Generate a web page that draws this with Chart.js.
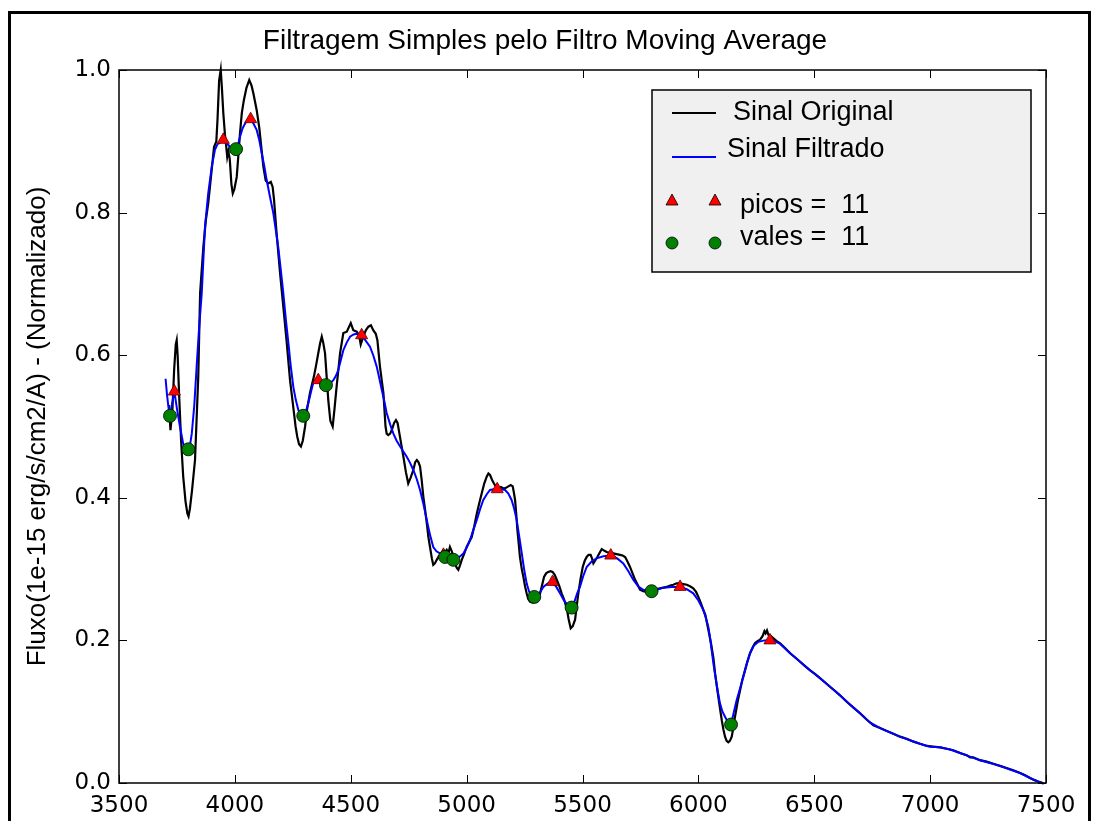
<!DOCTYPE html>
<html lang="pt">
<head>
    <meta charset="UTF-8">
    <title>Filtragem Simples pelo Filtro Moving Average</title>
    <style>
      html, body { margin: 0; padding: 0; background: #fff; }
      #wrap { width: 1099px; height: 821px; }
    </style>
</head>
  <body>
    <div id="wrap"><canvas id="grafico" width="1099" height="821"></canvas></div>
    <script src="https://cdn.jsdelivr.net/npm/chart.js"></script>
    <script>
      // sinal original (comprimento de onda, fluxo normalizado)
      const origX = [3716,3722,3730,3738,3745,3749,3753,3760,3768,3777,3787,3795,3800,3806,3815,3828,3842,3850,3864,3875,3885,3900,3910,3920,3925,3932,3939,3944,3950,3957,3962,3967,3972,3978,3985,3991,3998,4008,4015,4022,4030,4039,4050,4062,4072,4080,4094,4105,4113,4123,4133,4144,4155,4163,4169,4180,4195,4209,4224,4238,4255,4262,4269,4277,4285,4293,4303,4312,4324,4341,4350,4360,4368,4375,4381,4389,4396,4403,4412,4422,4430,4439,4454,4468,4483,4500,4511,4526,4536,4543,4554,4565,4576,4587,4597,4608,4615,4626,4641,4650,4655,4662,4670,4677,4687,4695,4702,4710,4718,4727,4738,4748,4758,4770,4778,4785,4792,4799,4806,4813,4820,4828,4835,4842,4850,4856,4863,4871,4880,4892,4904,4914,4921,4928,4936,4943,4950,4957,4964,4971,4979,4990,5000,5011,5022,5033,5044,5055,5065,5076,5087,5094,5101,5110,5118,5128,5137,5148,5159,5170,5180,5190,5199,5204,5209,5214,5219,5225,5230,5238,5245,5252,5259,5266,5274,5285,5295,5306,5317,5326,5334,5343,5352,5362,5371,5380,5389,5400,5410,5420,5432,5440,5449,5458,5468,5475,5482,5491,5501,5510,5518,5526,5535,5541,5547,5555,5564,5574,5583,5593,5604,5618,5633,5647,5662,5673,5684,5695,5705,5716,5727,5738,5748,5762,5777,5791,5806,5820,5834,5849,5863,5878,5892,5906,5921,5935,5950,5964,5978,5990,6000,6010,6021,6030,6043,6055,6065,6072,6080,6086,6094,6101,6108,6115,6122,6129,6136,6144,6151,6158,6170,6180,6190,6201,6212,6223,6234,6244,6255,6266,6277,6285,6290,6296,6302,6313,6324,6338,6353,6375,6396,6418,6439,6460,6482,6503,6525,6547,6568,6590,6611,6640,6668,6697,6726,6755,6784,6813,6841,6870,6899,6928,6956,6985,7014,7043,7071,7100,7129,7158,7172,7186,7215,7244,7273,7301,7330,7359,7388,7410,7431,7450,7467,7486];
      const origY = [0.530,0.495,0.520,0.580,0.615,0.621,0.600,0.540,0.480,0.430,0.395,0.378,0.374,0.385,0.410,0.453,0.570,0.687,0.752,0.790,0.813,0.860,0.892,0.900,0.930,0.985,1.000,0.975,0.940,0.910,0.895,0.878,0.886,0.875,0.840,0.827,0.833,0.850,0.880,0.911,0.940,0.958,0.975,0.986,0.978,0.967,0.944,0.920,0.895,0.864,0.845,0.841,0.843,0.836,0.818,0.771,0.715,0.668,0.617,0.565,0.519,0.500,0.486,0.475,0.472,0.480,0.500,0.525,0.547,0.570,0.585,0.603,0.617,0.626,0.618,0.603,0.570,0.537,0.508,0.500,0.525,0.556,0.603,0.631,0.633,0.645,0.635,0.633,0.628,0.615,0.626,0.635,0.640,0.642,0.635,0.630,0.621,0.584,0.547,0.500,0.490,0.488,0.490,0.495,0.505,0.509,0.505,0.490,0.475,0.458,0.436,0.420,0.428,0.439,0.450,0.453,0.450,0.444,0.425,0.402,0.385,0.365,0.345,0.331,0.315,0.306,0.308,0.313,0.318,0.322,0.323,0.327,0.322,0.331,0.325,0.317,0.308,0.302,0.299,0.305,0.313,0.322,0.331,0.338,0.345,0.360,0.378,0.393,0.406,0.420,0.430,0.434,0.432,0.425,0.420,0.415,0.413,0.415,0.413,0.414,0.416,0.418,0.416,0.407,0.397,0.378,0.355,0.335,0.317,0.300,0.289,0.276,0.266,0.258,0.254,0.253,0.254,0.258,0.266,0.278,0.289,0.294,0.296,0.297,0.296,0.292,0.285,0.276,0.266,0.258,0.245,0.230,0.217,0.220,0.229,0.248,0.266,0.285,0.303,0.312,0.317,0.320,0.320,0.315,0.308,0.312,0.317,0.323,0.328,0.326,0.324,0.323,0.322,0.321,0.320,0.319,0.317,0.310,0.303,0.294,0.285,0.278,0.271,0.269,0.268,0.270,0.271,0.272,0.273,0.274,0.275,0.277,0.278,0.280,0.280,0.279,0.278,0.276,0.273,0.268,0.261,0.253,0.243,0.236,0.215,0.195,0.175,0.154,0.135,0.121,0.103,0.088,0.075,0.065,0.059,0.057,0.059,0.065,0.078,0.093,0.115,0.130,0.145,0.158,0.171,0.182,0.190,0.196,0.199,0.201,0.206,0.213,0.210,0.214,0.208,0.206,0.203,0.199,0.196,0.189,0.182,0.176,0.170,0.164,0.158,0.153,0.147,0.141,0.135,0.129,0.123,0.114,0.106,0.098,0.089,0.081,0.077,0.073,0.069,0.065,0.062,0.058,0.055,0.052,0.051,0.050,0.048,0.046,0.042,0.039,0.036,0.036,0.032,0.030,0.027,0.024,0.021,0.018,0.014,0.011,0.007,0.004,0.002,0.000];

      // sinal filtrado (moving average)
      const filtX = [3701,3707,3713,3720,3728,3739,3750,3763,3777,3790,3799,3807,3814,3825,3835,3845,3857,3871,3885,3900,3914,3925,3936,3950,3961,3972,3985,3995,4005,4014,4022,4033,4044,4056,4068,4080,4094,4105,4116,4127,4137,4151,4166,4176,4187,4198,4209,4220,4231,4241,4252,4263,4274,4285,4295,4306,4317,4328,4338,4349,4360,4375,4393,4409,4425,4436,4446,4457,4468,4483,4497,4512,4526,4547,4565,4583,4597,4612,4623,4634,4645,4655,4670,4684,4698,4713,4727,4741,4756,4770,4785,4799,4813,4828,4842,4856,4870,4885,4907,4925,4943,4965,4986,5000,5015,5029,5044,5058,5072,5087,5101,5116,5132,5149,5166,5180,5194,5205,5216,5227,5238,5248,5259,5270,5281,5292,5305,5318,5331,5350,5371,5387,5403,5418,5435,5453,5465,5477,5489,5503,5518,5540,5561,5590,5622,5650,5676,5698,5719,5740,5762,5780,5798,5820,5849,5885,5921,5950,5978,6000,6021,6032,6043,6050,6057,6066,6076,6084,6093,6104,6115,6128,6141,6152,6165,6180,6194,6208,6223,6240,6259,6285,6309,6330,6353,6396,6439,6482,6525,6568,6611,6654,6697,6740,6784,6827,6870,6913,6956,7000,7043,7086,7129,7172,7215,7258,7301,7344,7388,7431,7467,7490];
      const filtY = [0.567,0.545,0.528,0.515,0.530,0.549,0.525,0.500,0.476,0.468,0.468,0.475,0.490,0.530,0.584,0.635,0.687,0.780,0.827,0.864,0.888,0.896,0.898,0.902,0.898,0.895,0.890,0.888,0.889,0.896,0.906,0.918,0.925,0.930,0.931,0.925,0.916,0.902,0.883,0.865,0.846,0.823,0.799,0.777,0.752,0.720,0.687,0.650,0.617,0.585,0.556,0.537,0.523,0.517,0.515,0.521,0.533,0.548,0.561,0.565,0.565,0.562,0.558,0.560,0.565,0.571,0.579,0.593,0.607,0.618,0.626,0.629,0.630,0.628,0.620,0.612,0.600,0.584,0.568,0.551,0.535,0.519,0.503,0.490,0.480,0.472,0.465,0.458,0.449,0.439,0.426,0.411,0.392,0.369,0.348,0.331,0.325,0.322,0.317,0.315,0.313,0.316,0.322,0.330,0.341,0.355,0.369,0.384,0.397,0.405,0.411,0.412,0.412,0.412,0.411,0.406,0.397,0.385,0.369,0.346,0.322,0.300,0.280,0.268,0.263,0.261,0.263,0.268,0.275,0.280,0.282,0.275,0.266,0.257,0.250,0.246,0.254,0.266,0.275,0.290,0.303,0.311,0.315,0.318,0.319,0.315,0.308,0.297,0.285,0.276,0.271,0.269,0.269,0.271,0.274,0.275,0.275,0.272,0.266,0.256,0.243,0.232,0.219,0.205,0.187,0.165,0.144,0.128,0.112,0.100,0.093,0.085,0.082,0.098,0.116,0.133,0.149,0.166,0.182,0.193,0.198,0.200,0.200,0.199,0.195,0.182,0.170,0.158,0.147,0.135,0.123,0.110,0.098,0.085,0.077,0.071,0.065,0.060,0.055,0.051,0.050,0.047,0.042,0.037,0.032,0.028,0.024,0.019,0.014,0.007,0.002,-0.001];

      // picos (triangulos) e vales (circulos)
      const picosX = [3739,3950,4068,4360,4547,4900,5132,5371,5622,5921,6309];
      const picosY = [0.549,0.902,0.931,0.565,0.628,0.320,0.412,0.282,0.319,0.275,0.200];
      const valesX = [3720,3799,4005,4295,4393,4907,4943,5292,5453,5798,6141];
      const valesY = [0.515,0.468,0.889,0.515,0.558,0.317,0.313,0.261,0.246,0.269,0.082];

      const xTicks = [3500,4000,4500,5000,5500,6000,6500,7000,7500];
      const yTicks = [0.0,0.2,0.4,0.6,0.8,1.0];

      const pares = (xs, ys) => xs.map((x, i) => ({x: x, y: ys[i]}));
      const FONTE = '"Liberation Sans", Arial, sans-serif';

      // moldura externa, caixa dos eixos, ticks para dentro, titulo e legenda
      const extras = {
        id: 'extras',
        beforeDraw(chart) {
          const c = chart.ctx;
          c.save();
          c.fillStyle = '#fff';
          c.fillRect(0, 0, chart.width, chart.height);
          c.restore();
        },
        afterDraw(chart) {
          const c = chart.ctx;
          const a = chart.chartArea;
          const sx = chart.scales.x, sy = chart.scales.y;
          c.save();
          // moldura
          c.strokeStyle = '#000';
          c.lineWidth = 3;
          c.strokeRect(9.5, 12.5, 1080, 840);
          // caixa dos eixos
          c.lineWidth = 1.5;
          c.strokeRect(a.left, a.top, a.right - a.left, a.bottom - a.top);
          // ticks
          c.lineWidth = 1;
          c.beginPath();
          xTicks.forEach(v => {
            const px = Math.round(sx.getPixelForValue(v)) + 0.5;
            c.moveTo(px, a.bottom); c.lineTo(px, a.bottom - 8);
            c.moveTo(px, a.top); c.lineTo(px, a.top + 8);
          });
          yTicks.forEach(v => {
            const py = Math.round(sy.getPixelForValue(v)) + 0.5;
            c.moveTo(a.left, py); c.lineTo(a.left + 8, py);
            c.moveTo(a.right, py); c.lineTo(a.right - 8, py);
          });
          c.stroke();
          // titulo
          c.fillStyle = '#000';
          c.font = '28px ' + FONTE;
          c.textAlign = 'center';
          c.textBaseline = 'middle';
          c.fillText('Filtragem Simples pelo Filtro Moving Average', 545, 41);
          // legenda
          c.fillStyle = '#f0f0f0';
          c.fillRect(652, 90, 379, 182);
          c.strokeStyle = '#000';
          c.lineWidth = 1.5;
          c.strokeRect(652, 90, 379, 182);
          c.lineWidth = 2;
          c.strokeStyle = '#000';
          c.beginPath(); c.moveTo(672, 113); c.lineTo(716, 113); c.stroke();
          c.strokeStyle = '#0000ff';
          c.beginPath(); c.moveTo(672, 157); c.lineTo(716, 157); c.stroke();
          c.lineWidth = 0.8;
          c.strokeStyle = '#000';
          [672, 715].forEach(px => {
            c.fillStyle = '#ff0000';
            c.beginPath();
            c.moveTo(px, 194); c.lineTo(px + 6, 205); c.lineTo(px - 6, 205);
            c.closePath(); c.fill(); c.stroke();
            c.fillStyle = '#008000';
            c.beginPath(); c.arc(px, 243, 6, 0, Math.PI * 2); c.fill(); c.stroke();
          });
          c.fillStyle = '#000';
          c.textAlign = 'left';
          c.font = '27px ' + FONTE;
          c.fillText('Sinal Original', 733, 113);
          c.fillText('Sinal Filtrado', 727, 150);
          c.fillText('picos =  ' + picosX.length, 740, 206);
          c.fillText('vales =  ' + valesX.length, 740, 238);
          c.restore();
        }
      };

      new Chart(document.getElementById('grafico'), {
        type: 'line',
        data: {
          datasets: [
            {
              label: 'Sinal Original',
              data: pares(origX, origY),
              borderColor: '#000000',
              borderWidth: 2.2,
              pointRadius: 0,
              tension: 0,
              order: 4
            },
            {
              label: 'Sinal Filtrado',
              data: pares(filtX, filtY),
              borderColor: '#0000ff',
              borderWidth: 2,
              pointRadius: 0,
              tension: 0,
              order: 3
            },
            {
              label: 'picos',
              data: pares(picosX, picosY),
              showLine: false,
              pointStyle: 'triangle',
              pointRadius: 7,
              backgroundColor: '#ff0000',
              borderColor: '#5a0000',
              pointBorderWidth: 0.8,
              order: 2
            },
            {
              label: 'vales',
              data: pares(valesX, valesY),
              showLine: false,
              pointStyle: 'circle',
              pointRadius: 6.5,
              backgroundColor: '#008000',
              borderColor: '#000000',
              pointBorderWidth: 0.8,
              order: 1
            }
          ]
        },
        options: {
          responsive: false,
          animation: false,
          devicePixelRatio: 1,
          clip: false,
          layout: { padding: { left: 0, top: 70, right: 53, bottom: 0 } },
          plugins: {
            legend: { display: false },
            tooltip: { enabled: false }
          },
          scales: {
            x: {
              type: 'linear',
              min: 3500,
              max: 7500,
              afterBuildTicks: s => { s.ticks = xTicks.map(v => ({value: v})); },
              afterFit: s => { s.height = 38; },
              grid: { display: false },
              border: { display: false },
              ticks: {
                color: '#000',
                padding: 1,
                maxRotation: 0,
                font: { family: '"DejaVu Sans"', size: 23 },
                callback: v => String(v)
              }
            },
            y: {
              type: 'linear',
              min: 0,
              max: 1,
              afterBuildTicks: s => { s.ticks = yTicks.map(v => ({value: v})); },
              afterFit: s => { s.width = 119; },
              grid: { display: false },
              border: { display: false },
              ticks: {
                color: '#000',
                padding: 0,
                font: { family: '"DejaVu Sans"', size: 23 },
                callback: v => v.toFixed(1)
              },
              title: {
                display: true,
                text: 'Fluxo(1e-15 erg/s/cm2/A) - (Normalizado)',
                color: '#000',
                padding: { top: 22, bottom: 0 },
                font: { family: FONTE, size: 26 }
              }
            }
          }
        },
        plugins: [extras]
      });
    </script>
  </body>
</html>
